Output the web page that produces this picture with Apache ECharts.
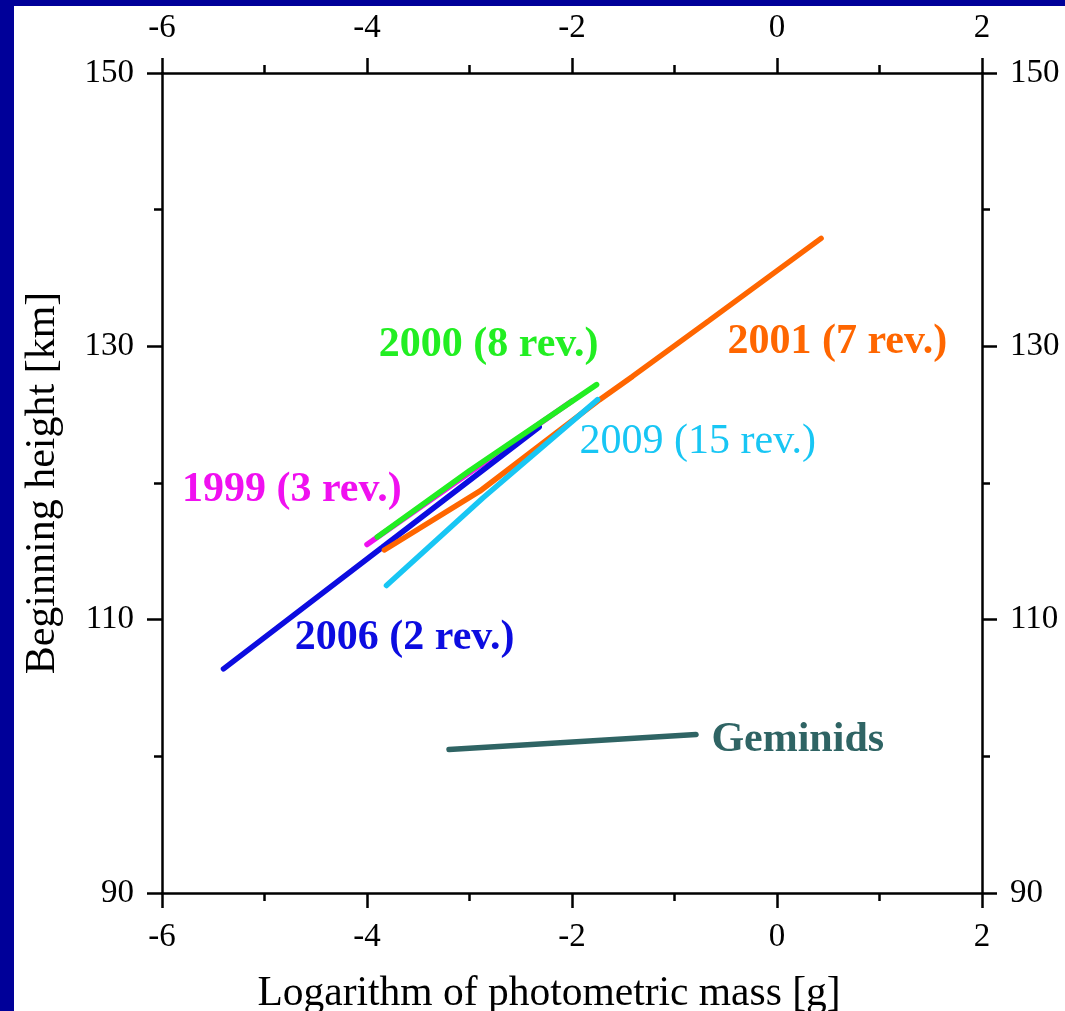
<!DOCTYPE html>
<html>
<head>
<meta charset="utf-8">
<title>Beginning height vs photometric mass</title>
<script src="https://cdn.jsdelivr.net/npm/echarts@6/dist/echarts.min.js"></script>
<style>
	html, body {
		margin: 0;
		padding: 0;
		width: 1065px;
		height: 1011px;
		overflow: hidden;
		background: #000099;
	}
	#chart {
		position: absolute;
		left: 14px;
		top: 6px;
		width: 1051px;
		height: 1005px;
		background: #ffffff;
	}
</style>
</head>
<body>
<div id="chart"></div>
<script>
// data: [log mass (g), beginning height (km)]
const line1999 = [[-4.0, 115.5], [-2.0, 126.0]];
const line2006 = [[-5.4, 106.4], [-3.85, 115.3], [-2.32, 124.1]];
const line2001 = [[-3.83, 115.1], [-2.9, 119.4], [-1.73, 126.1], [-1.41, 127.8], [-0.66, 131.9], [0.43, 137.9]];
const line2009 = [[-3.81, 112.5], [-2.87, 118.9], [-1.75, 126.1]];
const line2000 = [[-3.9, 116.05], [-3.0, 120.9], [-1.76, 127.2]];
const lineGeminids = [[-3.2, 100.5], [-0.79, 101.6]];

// annotation anchors (left edge, vertical middle of text)
const labelNames = ['2000 (8 rev.)', '2001 (7 rev.)', '2009 (15 rev.)', '1999 (3 rev.)', '2006 (2 rev.)', 'Geminids'];
const labelPos = [[-3.885, 130.1], [-0.483, 130.3], [-1.926, 123.0], [-5.805, 119.5], [-4.704, 108.66], [-0.64, 101.2]];
const labelColors = ['#22ee22', '#ff6600', '#18c6f4', '#f010f0', '#0c0ce0', '#2f6464'];
const labelBold = [true, true, false, true, true, true];

const xTicks = { min: -6, max: 2, interval: 2 };
const yTicks = { min: 90, max: 150, interval: 20 };

const font = 'Liberation Serif, Times New Roman, serif';
const chart = echarts.init(document.getElementById('chart'));

const axisCommon = {
	type: 'value',
	axisLine: { show: true, onZero: false, lineStyle: { color: '#000', width: 2.5 } },
	axisTick: { show: true, inside: false, length: 15, lineStyle: { color: '#000', width: 2.5 } },
	minorTick: { show: true, splitNumber: 2, length: 8, lineStyle: { color: '#000', width: 2.5 } },
	splitLine: { show: false },
	minorSplitLine: { show: false },
	axisLabel: { color: '#000', fontFamily: font, fontSize: 33, margin: 28 },
};

const lineSeries = (name, data, color) => ({
	name: name,
	type: 'line',
	data: data,
	symbol: 'none',
	smooth: false,
	lineStyle: { color: color, width: 5.5, cap: 'round' },
	z: 3,
});

const option = {
	animation: false,
	backgroundColor: '#ffffff',
	grid: { left: 148, right: 83, top: 67, bottom: 118, containLabel: false, outerBoundsMode: 'none' },
	xAxis: [
		Object.assign({}, axisCommon, {
			position: 'bottom',
			min: xTicks.min,
			max: xTicks.max,
			interval: xTicks.interval,
			name: 'Logarithm of photometric mass [g]',
			nameLocation: 'middle',
			nameGap: 80,
			nameTextStyle: { color: '#000', fontFamily: font, fontSize: 41.5, padding: [0, 46, 0, 0] },
		}),
		Object.assign({}, axisCommon, {
			position: 'top',
			min: xTicks.min,
			max: xTicks.max,
			interval: xTicks.interval,
		}),
	],
	yAxis: [
		Object.assign({}, axisCommon, {
			position: 'left',
			min: yTicks.min,
			max: yTicks.max,
			interval: yTicks.interval,
			name: 'Beginning height [km]',
			nameLocation: 'middle',
			nameGap: 98,
			nameTextStyle: { color: '#000', fontFamily: font, fontSize: 42 },
		}),
		Object.assign({}, axisCommon, {
			position: 'right',
			min: yTicks.min,
			max: yTicks.max,
			interval: yTicks.interval,
		}),
	],
	series: [
		lineSeries('1999', line1999, labelColors[3]),
		lineSeries('2006', line2006, labelColors[4]),
		lineSeries('2001', line2001, labelColors[1]),
		lineSeries('2009', line2009, labelColors[2]),
		lineSeries('2000', line2000, labelColors[0]),
		lineSeries('Geminids', lineGeminids, labelColors[5]),
		{
			// text annotations placed in data coordinates
			type: 'scatter',
			symbolSize: 0,
			silent: true,
			z: 5,
			itemStyle: { opacity: 1 },
			data: labelPos.map((p, i) => ({
				value: p,
				label: {
					show: true,
					position: 'right',
					distance: 0,
					formatter: labelNames[i],
					color: labelColors[i],
					opacity: 1,
					fontFamily: font,
					fontSize: 42,
					fontWeight: labelBold[i] ? 'bold' : 'normal',
				},
			})),
		},
	],
};

chart.setOption(option);
</script>
</body>
</html>
